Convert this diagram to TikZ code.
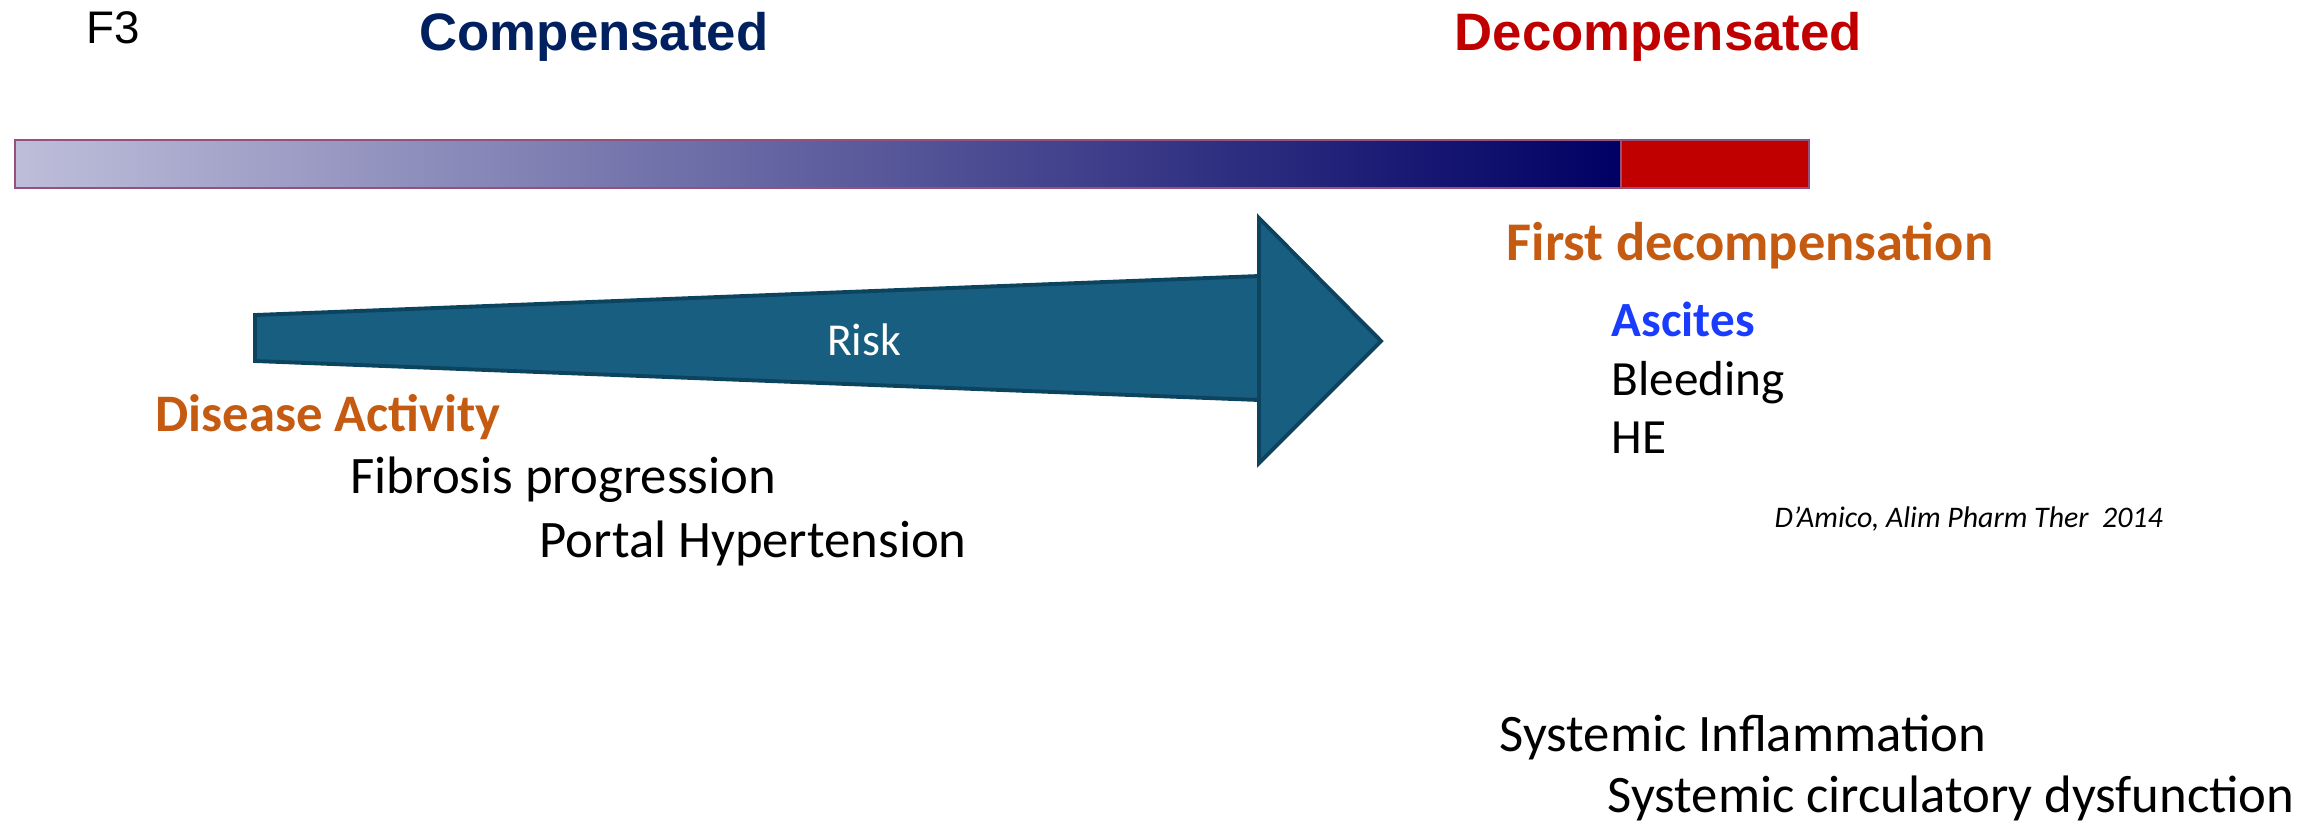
\documentclass[tikz,border=0pt]{standalone}
\usepackage{fontspec}
\setmainfont{Carlito}
\newfontfamily\headfont{Liberation Sans}
\definecolor{navyhead}{RGB}{0,32,96}
\definecolor{redhead}{RGB}{192,0,0}
\definecolor{rust}{RGB}{197,90,17}
\definecolor{asciteblue}{RGB}{26,60,255}
\definecolor{riskfill}{RGB}{24,94,128}
\definecolor{riskline}{RGB}{12,68,96}
\definecolor{barleft}{RGB}{190,190,218}
\definecolor{barright}{RGB}{0,0,100}
\definecolor{barline}{RGB}{150,80,125}
\begin{document}
\begin{tikzpicture}[x=0.1mm,y=-0.1mm,
  txt/.style={anchor=base west,inner sep=0pt,font=\fontsize{15pt}{18pt}\selectfont},
  head/.style={anchor=base west,inner sep=0pt,font=\headfont\bfseries\fontsize{15pt}{18pt}\selectfont}]
\useasboundingbox (0,0) rectangle (2315,824);
% stage bar
\shade[left color=barleft,right color=barright] (15,140) rectangle (1621,188);
\fill[redhead] (1621,140) rectangle (1809,188);
\draw[barline,line width=0.5pt] (15,140) rectangle (1809,188);
\draw[barline,line width=0.5pt] (1621,140) -- (1621,188);
% risk arrow
\draw[riskline,fill=riskfill,line width=1.1pt,line join=miter] (255,315) -- (1259,276) -- (1259,218)
  -- (1381,341) -- (1259,463) -- (1259,400) -- (255,361) -- cycle;
\draw[riskline,line width=1.1pt] (1259,276) -- (1259,400);
\node[text=white,font=\fontsize{13pt}{16pt}\selectfont] (risk) at (864,340) {Risk};
% headings
\node[anchor=base west,inner sep=0pt,font=\headfont\fontsize{13pt}{15pt}\selectfont] (fthree) at (86,43) {F3};
\node[head,text=navyhead] (comp) at (419,50) {Compensated};
\node[head,text=redhead] (decomp) at (1454,50) {Decompensated};
% compensated side
\node[txt,font=\bfseries\fontsize{15pt}{18pt}\selectfont,text=rust] (activity) at (155,431) {Disease Activity};
\node[txt] (fibrosis) at (350,493) {Fibrosis progression};
\node[txt] (portal) at (539,557) {Portal Hypertension};
% decompensated side
\node[txt,font=\bfseries\fontsize{15.5pt}{18pt}\selectfont,text=rust] (first) at (1506,260) {First decompensation};
\node[txt,font=\bfseries\fontsize{14pt}{17pt}\selectfont,text=asciteblue] (ascites) at (1611,336) {Ascites};
\node[txt,font=\fontsize{14pt}{17pt}\selectfont] (bleeding) at (1611,395) {Bleeding};
\node[txt,font=\fontsize{14pt}{17pt}\selectfont] (he) at (1611,453) {HE};
\node[txt,font=\itshape\fontsize{8.5pt}{10pt}\selectfont] (ref) at (1774,527) {D’Amico, Alim Pharm Ther~~2014};
\node[txt] (inflam) at (1499,751) {Systemic Inflammation};
\node[txt] (circ) at (1607,812) {Systemic circulatory dysfunction};
\end{tikzpicture}
\end{document}
